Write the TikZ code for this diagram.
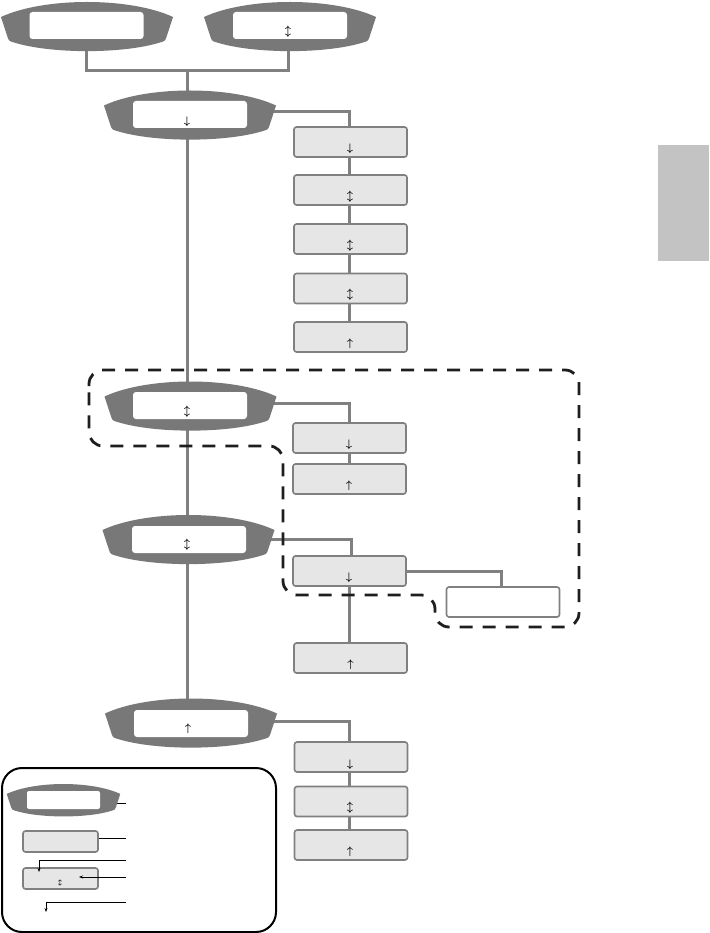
\documentclass[tikz,border=0pt]{standalone}
\usetikzlibrary{arrows.meta}
\pgfdeclarelayer{bg}
\pgfsetlayers{bg,main}
\definecolor{scrdark}{HTML}{787878}
\definecolor{linegray}{HTML}{808080}
\definecolor{boxfill}{HTML}{E6E6E6}
\definecolor{tabgray}{HTML}{C3C3C3}
\definecolor{dashcol}{HTML}{1E1E1E}
\newcommand\scrshape[3]{%
  \begin{scope}[shift={(#1,#2)},scale=#3]
    \fill[scrdark] (-86,-10) .. controls (-43,-30) and (43,-30) .. (86,-10)
      -- (79.5,10) .. controls (78,14) .. (73,15.5)
      .. controls (36,27) and (-36,27) .. (-73,15.5)
      .. controls (-78,14) .. (-79.5,10) -- cycle;
  \end{scope}}
\begin{document}
\begin{tikzpicture}[x=1pt,y=-1pt,
  scrin/.style={fill=white,rounded corners=3pt,minimum width=114pt,minimum height=27pt,inner sep=0pt},
  scrinsmall/.style={fill=white,rounded corners=2pt,minimum width=73pt,minimum height=18pt,inner sep=0pt},
  stepbox/.style={fill=boxfill,draw=linegray,line width=1.6pt,rounded corners=2.5pt,minimum width=113pt,minimum height=30pt,inner sep=0pt},
  whitebox/.style={stepbox,fill=white},
  smallbox/.style={stepbox,minimum width=75pt,minimum height=21pt},
  glyph/.style={inner sep=0pt,font=\fontsize{11}{11}\selectfont\boldmath},
  conn/.style={draw=linegray,line width=3pt},
  legline/.style={draw=black,line width=0.9pt},
  legarrow/.style={legline,-{Stealth[length=4pt,width=3pt]}},
  dashpath/.style={draw=dashcol,line width=2.8pt,dash pattern=on 13pt off 10pt,rounded corners=14pt}]
\useasboundingbox (0,0) rectangle (709,933);
\begin{pgfonlayer}{bg}
\fill[white] (0,0) rectangle (709,933);
\end{pgfonlayer}

% side tab
\node[fill=tabgray,minimum width=51pt,minimum height=116pt,inner sep=0pt,anchor=north west] (tab) at (658,145) {};

% screens (dark shapes)
\scrshape{87}{27}{1}
\scrshape{290}{27}{1}
\scrshape{190}{115.5}{1}
\scrshape{190.5}{406.5}{1}
\scrshape{188.5}{540}{1}
\scrshape{191}{723.5}{1}
\scrshape{63.5}{800.5}{0.66}

% screen inner windows
\node[scrin] (s1) at (86.5,25.5) {};
\node[scrin] (s2) at (290,25.5) {};
\node[scrin] (s3) at (190,114.5) {};
\node[scrin] (s4) at (190,405.5) {};
\node[scrin] (s5) at (189,539.5) {};
\node[scrin] (s6) at (191,723.5) {};
\node[scrinsmall] (ls) at (63.5,800) {};

\node[glyph] (g2) at (288,32) {$\updownarrow$};
\node[glyph] (g3) at (187,122) {$\downarrow$};
\node[glyph] (g4) at (187,412) {$\updownarrow$};
\node[glyph] (g5) at (187,545) {$\updownarrow$};
\node[glyph] (g6) at (188,729) {$\uparrow$};

% boxes
\node[stepbox] (b1) at (350.5,142) {};
\node[stepbox] (b2) at (350.5,190) {};
\node[stepbox] (b3) at (350.5,239) {};
\node[stepbox] (b4) at (350.5,288.5) {};
\node[stepbox] (b5) at (350.5,337) {};
\node[stepbox] (bA) at (349.5,438) {};
\node[stepbox] (bB) at (349.5,479) {};
\node[stepbox] (bC) at (349.5,571) {};
\node[whitebox] (bD) at (503,602) {};
\node[stepbox] (bE) at (350.5,658) {};
\node[stepbox] (bF) at (351,757) {};
\node[stepbox] (bG) at (351,801.5) {};
\node[stepbox] (bH) at (351,845) {};

\node[glyph] (t1) at (350,149) {$\downarrow$};
\node[glyph] (t2) at (350,197) {$\updownarrow$};
\node[glyph] (t3) at (350,245.5) {$\updownarrow$};
\node[glyph] (t4) at (350,294.5) {$\updownarrow$};
\node[glyph] (t5) at (350,344) {$\uparrow$};
\node[glyph] (tA) at (349,445) {$\downarrow$};
\node[glyph] (tB) at (349,485.5) {$\uparrow$};
\node[glyph] (tC) at (349,578) {$\downarrow$};
\node[glyph] (tE) at (350.5,665) {$\uparrow$};
\node[glyph] (tF) at (350,764.5) {$\downarrow$};
\node[glyph] (tG) at (350,808) {$\updownarrow$};
\node[glyph] (tH) at (350,852) {$\uparrow$};

% connectors (behind)
\coordinate (j) at (187,71);
\begin{pgfonlayer}{bg}
  \draw[conn] ([xshift=-0.5pt]s1.center) |- (j) -| ([xshift=-2pt]s2.center);
  \draw[conn] (j) -- ([xshift=-3pt]s3.center);
  \draw[conn] ([xshift=-3pt]s3.center) -- ([xshift=-4pt]s6.center);
  \draw[conn] ([yshift=2.5pt]s3.center) -| ([xshift=-1pt]b1.center);
  \draw[conn] ([xshift=-1pt]b1.center) -- ([xshift=-1pt]b5.center);
  \draw[conn] ([yshift=2.5pt]s4.center) -| (bA.center);
  \draw[conn] (bA.center) -- (bB.center);
  \draw[conn] ([yshift=0.5pt]s5.center) -| ([xshift=1.5pt]bC.center);
  \draw[conn] (bC.center) -| ([xshift=-2pt]bD.center);
  \draw[conn] (bC.center) -- ([xshift=-1pt]bE.center);
  \draw[conn] ([yshift=2.5pt]s6.center) -| ([xshift=-2pt]bF.center);
  \draw[conn] ([xshift=-2pt]bF.center) -- ([xshift=-2pt]bH.center);
\end{pgfonlayer}

% dashed group outline
\coordinate (d1) at (89,400);
\coordinate (d2) at (89,370);
\coordinate (d3) at (579,370);
\coordinate (d4) at (579,627);
\coordinate (d5) at (435,627);
\coordinate (d6) at (435,595);
\coordinate (d7) at (283,595);
\coordinate (d8) at (283,446);
\coordinate (d9) at (89,446);
\draw[dashpath] (d1) -- (d2) -- (d3) -- (d4) -- (d5) -- (d6) -- (d7) -- (d8) -- (d9) -- cycle;

% legend
\draw[black,line width=2pt,rounded corners=20pt] (2,768) rectangle (276,932);
\node[smallbox] (lb1) at (60.5,841.5) {};
\node[smallbox] (lb2) at (60.5,878.5) {};
\node[glyph,font=\fontsize{6}{6}\selectfont\boldmath] (lg) at (60,883) {$\updownarrow$};
\coordinate (l1) at (126,803);
\coordinate (l2) at (126,838);
\coordinate (l3) at (126,860);
\coordinate (l3e) at (39,872);
\coordinate (l4) at (126,877);
\coordinate (l4e) at (79,877);
\coordinate (l5) at (126,902);
\coordinate (l5e) at (46,912);
\begin{pgfonlayer}{bg}
  \draw[legline] (l1) -- (ls.center |- l1);
  \draw[legline] (l2) -- (lb1.center |- l2);
\end{pgfonlayer}
\draw[legarrow] (l3) -| (l3e);
\draw[legarrow] (l4) -- (l4e);
\draw[legarrow] (l5) -| (l5e);
\end{tikzpicture}
\end{document}
